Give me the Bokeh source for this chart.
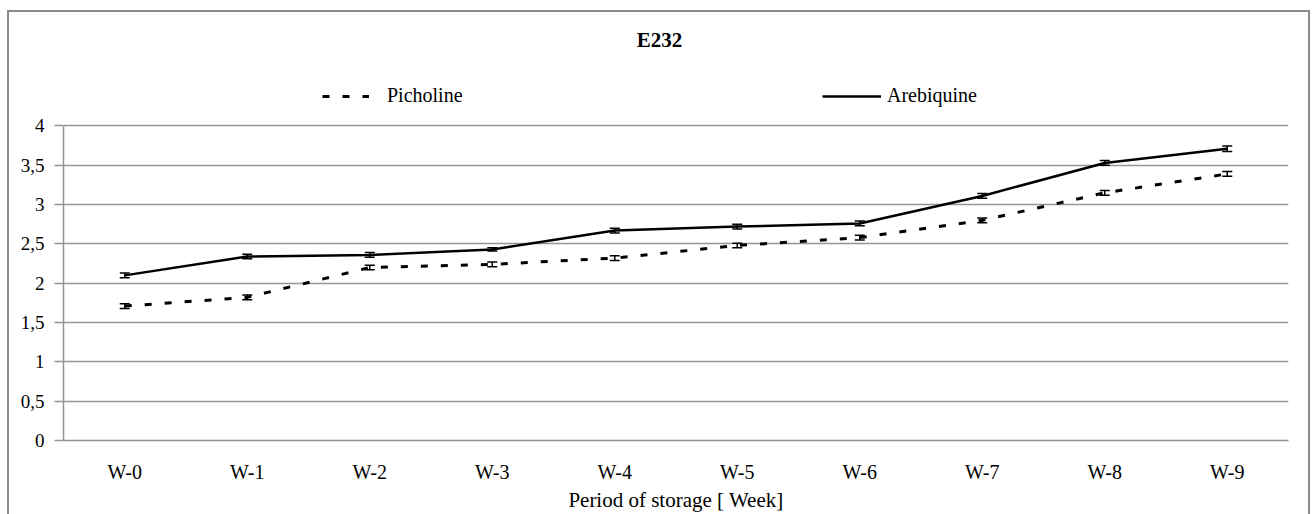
from bokeh.plotting import figure
from bokeh.models import (ColumnDataSource, FactorRange, Range1d, FixedTicker, Whisker,
                          TeeHead, Legend, LegendItem, Label)
from bokeh.embed import file_html
from bokeh.resources import INLINE

weeks = ["W-0", "W-1", "W-2", "W-3", "W-4", "W-5", "W-6", "W-7", "W-8", "W-9"]
picholine = [1.71, 1.82, 2.20, 2.24, 2.32, 2.48, 2.58, 2.80, 3.15, 3.39]
arebiquine = [2.10, 2.34, 2.36, 2.43, 2.67, 2.72, 2.76, 3.11, 3.53, 3.71]
picholine_err = [0.03, 0.03, 0.03, 0.03, 0.03, 0.03, 0.03, 0.03, 0.03, 0.03]
arebiquine_err = [0.03, 0.03, 0.03, 0.02, 0.03, 0.03, 0.03, 0.03, 0.03, 0.035]
y_ticks = [0, 0.5, 1, 1.5, 2, 2.5, 3, 3.5, 4]
y_tick_labels = ["0", "0,5", "1", "1,5", "2", "2,5", "3", "3,5", "4"]
title_text = "E232"
x_title = "Period of storage [ Week]"

FONT = "Liberation Serif"
GRID = "#959595"

src_p = ColumnDataSource(dict(x=weeks, y=picholine,
                              lo=[v - e for v, e in zip(picholine, picholine_err)],
                              hi=[v + e for v, e in zip(picholine, picholine_err)]))
src_a = ColumnDataSource(dict(x=weeks, y=arebiquine,
                              lo=[v - e for v, e in zip(arebiquine, arebiquine_err)],
                              hi=[v + e for v, e in zip(arebiquine, arebiquine_err)]))

# frame spans from y=12 to y=442 px; value 4 sits at y=126 px
y_top = 4 * (442 - 12) / (442 - 126)

p = figure(width=1312, height=514, output_backend="svg", toolbar_location=None,
           x_range=FactorRange(*weeks, range_padding=0), y_range=Range1d(0, y_top),
           min_border_left=63, min_border_right=24, min_border_top=12, min_border_bottom=72)
p.outline_line_color = None
p.background_fill_color = "white"
p.border_fill_color = "white"

# grid
p.xgrid.grid_line_color = None
p.ygrid.grid_line_color = GRID
p.ygrid.grid_line_width = 1.5
p.yaxis.ticker = FixedTicker(ticks=y_ticks)
p.yaxis.major_label_overrides = {t: l for t, l in zip(y_ticks, y_tick_labels)}
p.yaxis.bounds = (0, 4)

for ax in (p.xaxis[0], p.yaxis[0]):
    ax.axis_line_color = GRID
    ax.axis_line_width = 1.5
    ax.major_tick_line_color = GRID
    ax.major_tick_line_width = 1.5
    ax.minor_tick_line_color = None
    ax.major_label_text_font = FONT
    ax.major_label_text_color = "black"

p.yaxis.major_tick_out = 9
p.yaxis.major_tick_in = 0
p.yaxis.major_label_standoff = 10
p.yaxis.major_label_text_font_size = "19px"

p.xaxis.major_tick_out = 0
p.xaxis.major_tick_in = 0
p.xaxis.major_label_standoff = 20
p.xaxis.major_label_text_font_size = "20px"
p.xaxis.axis_label = x_title
p.xaxis.axis_label_text_font = FONT
p.xaxis.axis_label_text_font_style = "normal"
p.xaxis.axis_label_text_font_size = "21px"
p.xaxis.axis_label_text_color = "black"
p.xaxis.axis_label_standoff = 2

# series
r_p = p.line("x", "y", source=src_p, line_color="black", line_width=3, line_dash="7 13")
r_a = p.line("x", "y", source=src_a, line_color="black", line_width=2.5)

for s in (src_p, src_a):
    w = Whisker(base="x", upper="hi", lower="lo", source=s, dimension="height",
                line_color="black", line_width=1.5,
                upper_head=TeeHead(size=10, line_color="black", line_width=1.5),
                lower_head=TeeHead(size=10, line_color="black", line_width=1.5))
    p.add_layout(w)

# legends
leg_common = dict(glyph_height=20, label_height=20, padding=0, margin=0, spacing=0,
                  border_line_alpha=0, background_fill_alpha=0,
                  label_text_font=FONT, label_text_font_size="20px",
                  label_text_color="black")
leg1 = Legend(items=[LegendItem(label="Picholine", renderers=[r_p])],
              location=(259, 333), glyph_width=47, label_standoff=18, **leg_common)
leg2 = Legend(items=[LegendItem(label="Arebiquine", renderers=[r_a])],
              location=(759, 333), glyph_width=59, label_standoff=6, **leg_common)
p.add_layout(leg1, "center")
p.add_layout(leg2, "center")

# title
p.add_layout(Label(x=596, y=401, x_units="screen", y_units="screen", text=title_text,
                   text_font=FONT, text_font_style="bold", text_font_size="21px",
                   text_align="center", text_baseline="middle", text_color="black"))

html = file_html(p, INLINE)
box = ('<div style="position:fixed;left:7px;top:10px;width:1303px;height:504px;'
       'border:2px solid #8c8c8c;border-bottom:none;box-sizing:border-box;'
       'pointer-events:none;z-index:1000;"></div>')
idx = html.rfind("</body>")
if idx != -1:
    html = html[:idx] + box + html[idx:]
open("out.html", "w").write(html)
